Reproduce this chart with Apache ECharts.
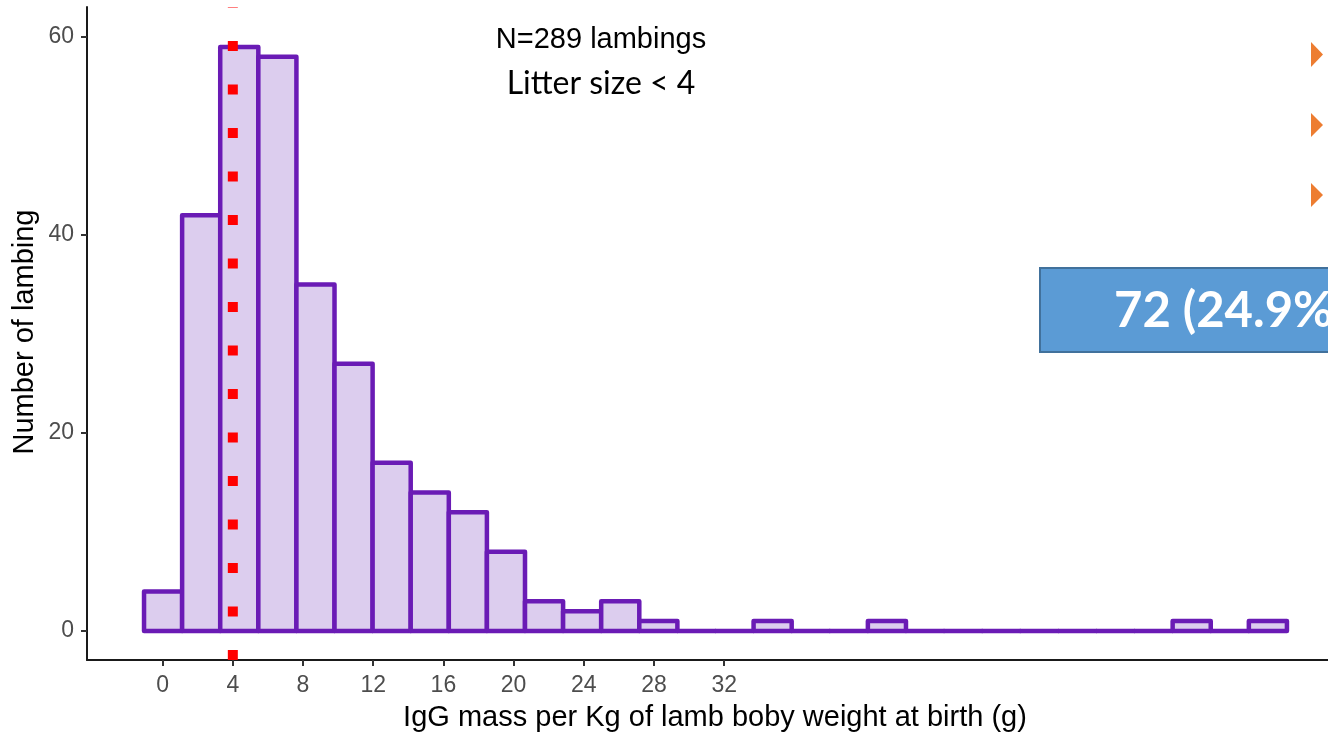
<!DOCTYPE html>
<html>
<head>
<meta charset="utf-8">
<script src="https://cdn.jsdelivr.net/npm/echarts@6/dist/echarts.min.js"></script>
<style>
  html, body { margin: 0; padding: 0; background: #ffffff; }
  #chart { width: 1328px; height: 736px; }
</style>
</head>
<body>
<div id="chart"></div>
<script>
// Histogram of IgG mass per kg of lamb body weight (30 equal-width bins)
const binStart = -1.06;
const binWidth = 2.171;
const binCounts = [4, 42, 59, 58, 35, 27, 17, 14, 12, 8, 3, 2, 3, 1, 0, 0, 1, 0, 0, 1, 0, 0, 0, 0, 0, 0, 0, 1, 0, 1];

const xTickValues = [0, 4, 8, 12, 16, 20, 24, 28, 32];
const yTickValues = [0, 20, 40, 60];

const xRange = [-4.31, 66.41];
const yRange = [-2.93, 63.03];

// Reference threshold (vertical dotted line)
const thresholdX = 4;

const xTitle = 'IgG mass per Kg of lamb boby weight at birth (g)';
const yTitle = 'Number of lambing';
const noteN = 'N=289 lambings';
const noteLitter = 'Litter size < 4';
const boxText = '72 (24.9%)';

const bins = binCounts.map((c, i) => [binStart + i * binWidth, binStart + (i + 1) * binWidth, c]);

const chart = echarts.init(document.getElementById('chart'), null, { renderer: 'canvas' });

const axisFont = 'Liberation Sans, Arial, sans-serif';

chart.setOption({
  animation: false,
  backgroundColor: '#ffffff',
  grid: { left: 87, right: 0, top: 7, bottom: 76, containLabel: false },
  xAxis: {
    type: 'value',
    min: xRange[0],
    max: xRange[1],
    splitLine: { show: false },
    axisLine: { show: true, onZero: false, lineStyle: { color: '#1a1a1a', width: 2 } },
    axisTick: { show: true, length: 6, customValues: xTickValues, lineStyle: { color: '#333333', width: 2 } },
    axisLabel: { customValues: xTickValues, margin: 14, color: '#4d4d4d', fontSize: 23, fontFamily: axisFont }
  },
  yAxis: {
    type: 'value',
    min: yRange[0],
    max: yRange[1],
    splitLine: { show: false },
    axisLine: { show: true, onZero: false, lineStyle: { color: '#1a1a1a', width: 2 } },
    axisTick: { show: true, length: 6, customValues: yTickValues, lineStyle: { color: '#333333', width: 2 } },
    axisLabel: { customValues: yTickValues, margin: 13, color: '#4d4d4d', fontSize: 23, fontFamily: axisFont }
  },
  series: [
    {
      type: 'custom',
      data: bins,
      encode: { x: [0, 1], y: 2 },
      renderItem: function (params, api) {
        const lo = api.value(0), hi = api.value(1), c = api.value(2);
        const pTop = api.coord([lo, c]);
        const pBot = api.coord([hi, 0]);
        return {
          type: 'rect',
          shape: { x: pTop[0], y: pTop[1], width: pBot[0] - pTop[0], height: pBot[1] - pTop[1] },
          style: { fill: '#dccdee', stroke: '#6a1bb5', lineWidth: 4.5, lineJoin: 'round' }
        };
      },
      z: 2
    },
    {
      type: 'line',
      data: [[thresholdX, yRange[0]], [thresholdX, yRange[1]]],
      symbol: 'none',
      lineStyle: { color: '#ff0000', width: 10, type: [10, 33.5], cap: 'butt' },
      z: 3
    }
  ],
  graphic: [
    {
      type: 'text', x: 25, y: 332, rotation: Math.PI / 2,
      style: { text: yTitle, font: '29px ' + axisFont, fill: '#000000', align: 'center', verticalAlign: 'middle' }
    },
    {
      type: 'text', x: 715, y: 718,
      style: { text: xTitle, font: '29px ' + axisFont, fill: '#000000', align: 'center', verticalAlign: 'middle' }
    },
    {
      type: 'text', x: 601, y: 40,
      style: { text: noteN, font: '29px ' + axisFont, fill: '#000000', align: 'center', verticalAlign: 'middle' }
    },
    {
      type: 'text', x: 601, y: 84,
      style: { text: noteLitter, font: '32px Lato, sans-serif', fill: '#000000', align: 'center', verticalAlign: 'middle' }
    },
    {
      type: 'rect',
      shape: { x: 1040, y: 268, width: 320, height: 84 },
      style: { fill: '#5b9bd5', stroke: '#41719c', lineWidth: 2 }
    },
    {
      type: 'text', x: 1114, y: 311,
      style: { text: boxText, font: 'bold 49px Lato, sans-serif', fill: '#ffffff', align: 'left', verticalAlign: 'middle' }
    },
    { type: 'polygon', shape: { points: [[1311, 42], [1311, 67], [1323, 54.5]] }, style: { fill: '#ed7d31' } },
    { type: 'polygon', shape: { points: [[1311, 113], [1311, 137], [1323, 125]] }, style: { fill: '#ed7d31' } },
    { type: 'polygon', shape: { points: [[1311, 183], [1311, 207], [1323, 195]] }, style: { fill: '#ed7d31' } }
  ]
});
</script>
</body>
</html>
